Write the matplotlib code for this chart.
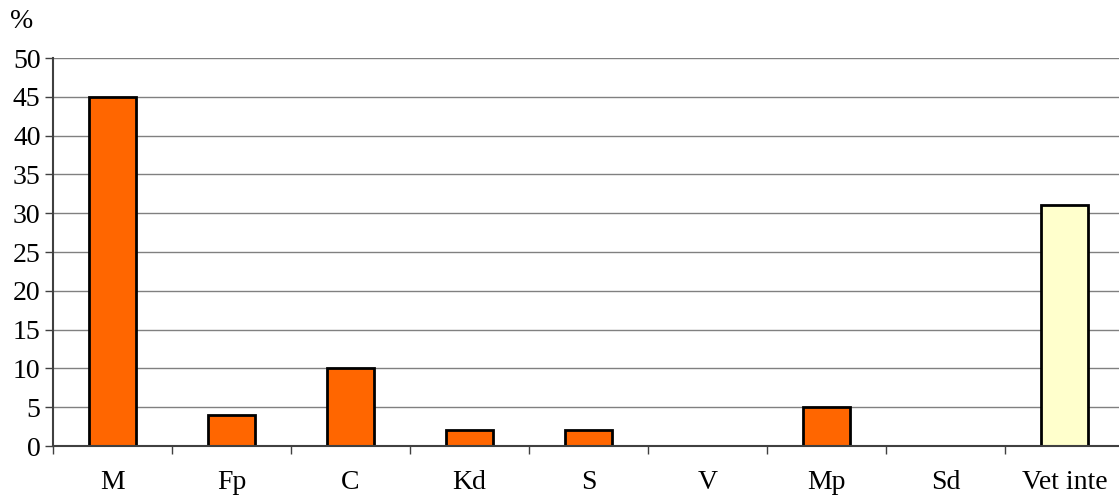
import matplotlib
matplotlib.use("Agg")
import matplotlib.pyplot as plt
import numpy as np

# categorii si valori (%)
categorii = ["M", "Fp", "C", "Kd", "S", "V", "Mp", "Sd", "Vet inte"]
valori = [45, 4, 10, 2, 2, 0, 5, 0, 31]
culori = ["#FF6600"] * 8 + ["#FFFFCC"]
y_ticks = [0, 5, 10, 15, 20, 25, 30, 35, 40, 45, 50]

plt.rcParams["font.family"] = ["Liberation Serif", "DejaVu Serif"]

fig = plt.figure(figsize=(11.19, 4.95), dpi=100)
ax = fig.add_axes([53 / 1119, 1 - 446 / 495, 1071 / 1119, 388 / 495])

x = np.arange(len(categorii))
ax.bar(x, valori, width=0.4, color=culori, edgecolor="black", linewidth=2, zorder=3)

ax.set_xlim(-0.5, len(categorii) - 0.5)
ax.set_ylim(0, 50)
ax.set_yticks(y_ticks)
ax.yaxis.grid(True, color="#808080", linewidth=1, zorder=0)

ax.set_xticks(x)
ax.set_xticklabels(categorii, fontsize=20)
ax.set_xticks(np.arange(len(categorii) + 1) - 0.5, minor=True)
ax.tick_params(axis="x", which="major", length=0, pad=17)
ax.tick_params(axis="x", which="minor", length=6, width=1, color="#404040", direction="out")
ax.tick_params(axis="y", labelsize=20, length=6, width=1, color="#404040", pad=3)

for s in ["top", "right"]:
    ax.spines[s].set_visible(False)
for s in ["left", "bottom"]:
    ax.spines[s].set_color("#404040")
    ax.spines[s].set_linewidth(1.5)
    ax.spines[s].set_zorder(4)

fig.text(22 / 1119, 1 - 22 / 495, "%", fontsize=20, ha="center", va="center")

fig.savefig("out.png", dpi=100)
